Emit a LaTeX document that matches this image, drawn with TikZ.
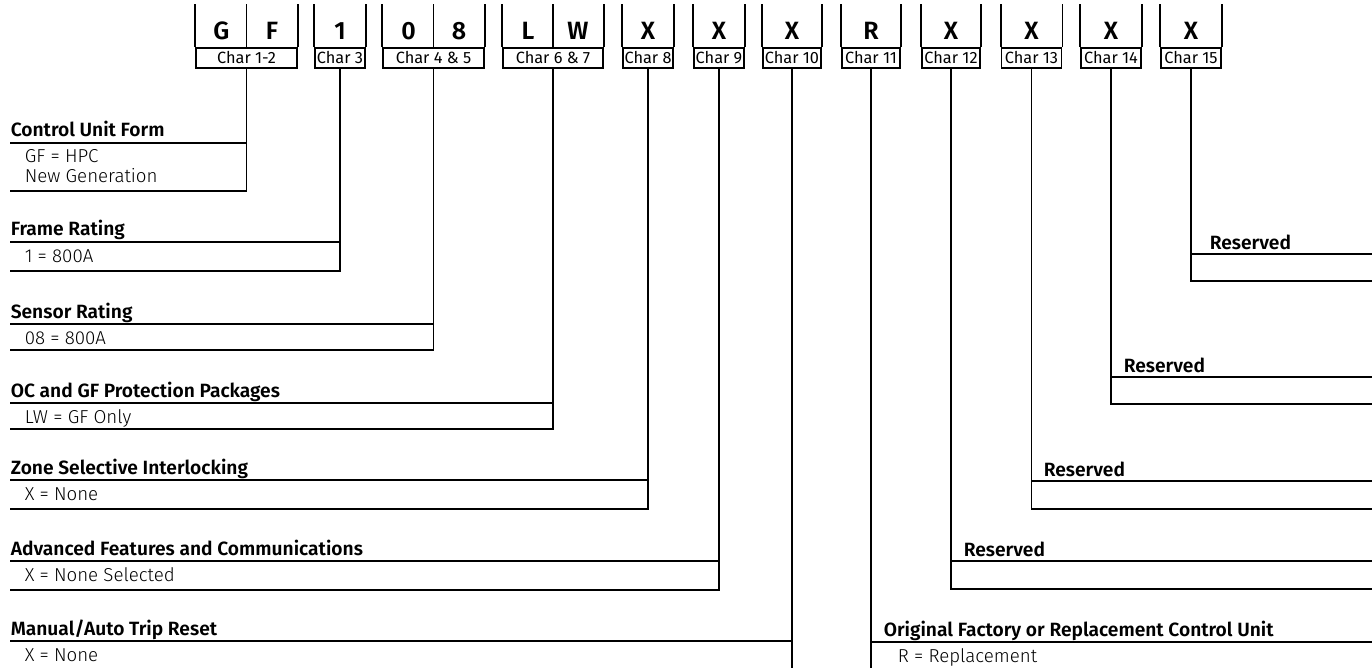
\documentclass[tikz,border=0pt]{standalone}
\usepackage{fontspec}
\setmainfont{Fira Sans}[UprightFont={* Light}, BoldFont={* SemiBold}]
\newfontfamily\bandfont{Fira Sans}
\begin{document}
\begin{tikzpicture}[x=1pt, y=-1pt, line width=1.6pt]
	\tikzstyle{charband}=[draw, inner sep=0pt, minimum height=20pt, font=\bandfont\fontsize{16.3}{18}\selectfont]
	\tikzstyle{bigchar}=[inner sep=0pt, anchor=base, font=\fontsize{25}{27}\selectfont\bfseries]
	\tikzstyle{heading}=[inner sep=0pt, anchor=base west, font=\fontsize{19.2}{21}\selectfont\bfseries]
	\tikzstyle{value}=[inner sep=0pt, anchor=base west, font=\fontsize{18.7}{20}\selectfont]
	\useasboundingbox (0,0) rectangle (1372,668);
	
	% code boxes along the top
	\draw 
	node[charband, minimum width=101pt](c12)at(246.5,58){Char 1-2}
	node[charband, minimum width=50pt](c3)at(340,58){Char 3}
	node[charband, minimum width=101pt](c45)at(433.5,58){Char 4 \& 5}
	node[charband, minimum width=100pt](c67)at(553,58){Char 6 \& 7}
	node[charband, minimum width=50pt](c8)at(648,58){Char 8}
	node[charband, minimum width=50pt](c9)at(719,58){Char 9}
	node[charband, minimum width=58pt](c10)at(792,58){Char 10}
	node[charband, minimum width=58pt](c11)at(871,58){Char 11}
	node[charband, minimum width=58pt](c12b)at(951,58){Char 12}
	node[charband, minimum width=60pt](c13)at(1031.5,58){Char 13}
	node[charband, minimum width=60pt](c14)at(1111,58){Char 14}
	node[charband, minimum width=60pt](c15)at(1191,58){Char 15};
	
	\draw (c12.north west)--++(0,-43) (c12.north)--++(0,-43) (c12.north east)--++(0,-43);
	\draw (c3.north west)--++(0,-43) (c3.north east)--++(0,-43);
	\draw (c45.north west)--++(0,-43) (c45.north)--++(0,-43) (c45.north east)--++(0,-43);
	\draw (c67.north west)--++(0,-43) (c67.north)--++(0,-43) (c67.north east)--++(0,-43);
	\draw (c8.north west)--++(0,-43) (c8.north east)--++(0,-43);
	\draw (c9.north west)--++(0,-43) (c9.north east)--++(0,-43);
	\draw (c10.north west)--++(0,-43) (c10.north east)--++(0,-43);
	\draw (c11.north west)--++(0,-43) (c11.north east)--++(0,-43);
	\draw (c12b.north west)--++(0,-43) (c12b.north east)--++(0,-43);
	\draw (c13.north west)--++(0,-43) (c13.north east)--++(0,-43);
	\draw (c14.north west)--++(0,-43) (c14.north east)--++(0,-43);
	\draw (c15.north west)--++(0,-43) (c15.north east)--++(0,-43);
	
	\draw 
	node[bigchar](kG)at(221.5,40){G}
	node[bigchar](kF)at(272,40){F}
	node[bigchar](k1)at(340,40){1}
	node[bigchar](k0)at(408.5,40){0}
	node[bigchar](k8)at(459,40){8}
	node[bigchar](kL)at(528,40){L}
	node[bigchar](kW)at(578,40){W}
	node[bigchar](kX8)at(648,40){X}
	node[bigchar](kX9)at(719,40){X}
	node[bigchar](kX10)at(792,40){X}
	node[bigchar](kR)at(871,40){R}
	node[bigchar](kX12)at(951,40){X}
	node[bigchar](kX13)at(1031.5,40){X}
	node[bigchar](kX14)at(1111,40){X}
	node[bigchar](kX15)at(1191,40){X};
	
	% left hand entries
	\node[heading](hcuf)at(10,137){Control Unit Form};
	\node[value](vcuf)at(24,163){GF = HPC};
	\node[value](vcuf2)at(24,183){New Generation};
	\node[heading](hfr)at(10,236){Frame Rating};
	\node[value](vfr)at(24,262){1 = 800A};
	\node[heading](hsr)at(10,318){Sensor Rating};
	\node[value](vsr)at(24,344){08 = 800A};
	\node[heading](hoc)at(10,397){OC and GF Protection Packages};
	\node[value](voc)at(24,423){LW = GF Only};
	\node[heading](hzsi)at(10,474){Zone Selective Interlocking};
	\node[value](vzsi)at(24,500){X = None};
	\node[heading](hafc)at(10,555){Advanced Features and Communications};
	\node[value](vafc)at(24,581){X = None Selected};
	\node[heading](hmat)at(10,635){Manual/Auto Trip Reset};
	\node[value](vmat)at(24,661){X = None};
	
	% right hand entries
	\node[heading](hr15)at(1209,249){Reserved};
	\node[heading](hr14)at(1123,372){Reserved};
	\node[heading](hr13)at(1043,476){Reserved};
	\node[heading](hr12)at(963,556){Reserved};
	\node[heading](hofr)at(883,636){Original Factory or Replacement Control Unit};
	\node[value](vofr)at(897,662){R = Replacement};
	
	\coordinate (lcuf) at (10,143); \coordinate (bcuf) at (10,191);
	\coordinate (lfr) at (10,242);  \coordinate (bfr) at (10,271);
	\coordinate (lsr) at (10,324);  \coordinate (bsr) at (10,350);
	\coordinate (loc) at (10,403);  \coordinate (boc) at (10,429);
	\coordinate (lzsi) at (10,480); \coordinate (bzsi) at (10,509);
	\coordinate (lafc) at (10,561); \coordinate (bafc) at (10,590);
	\coordinate (lmat) at (10,641); \coordinate (foot) at (0,668);
	\coordinate (r15) at (1372,254); \coordinate (s15) at (1372,281);
	\coordinate (r14) at (1372,377); \coordinate (s14) at (1372,404);
	\coordinate (r13) at (1372,481); \coordinate (s13) at (1372,509);
	\coordinate (r12) at (1372,561); \coordinate (s12) at (1372,589);
	\coordinate (r11) at (1372,642);
	
	\draw (c12.south) |- (lcuf) (bcuf) -| (c12.south |- lcuf);
	\draw (c3.south) |- (lfr) (bfr) -| (c3.south |- lfr);
	\draw (c45.south) |- (lsr) (bsr) -| (c45.south |- lsr);
	\draw (c67.south) |- (loc) (boc) -| (c67.south |- loc);
	\draw (c8.south) |- (lzsi) (bzsi) -| (c8.south |- lzsi);
	\draw (c9.south) |- (lafc) (bafc) -| (c9.south |- lafc);
	\draw (c10.south) -- (c10.south |- foot) (lmat) -- (c10.south |- lmat);
	\draw (c15.south) |- (r15) (s15) -| (c15.south |- r15);
	\draw (c14.south) |- (r14) (s14) -| (c14.south |- r14);
	\draw (c13.south) |- (r13) (s13) -| (c13.south |- r13);
	\draw (c12b.south) |- (r12) (s12) -| (c12b.south |- r12);
	\draw (c11.south) -- (c11.south |- foot) (r11) -- (c11.south |- r11);
\end{tikzpicture}
\end{document}
